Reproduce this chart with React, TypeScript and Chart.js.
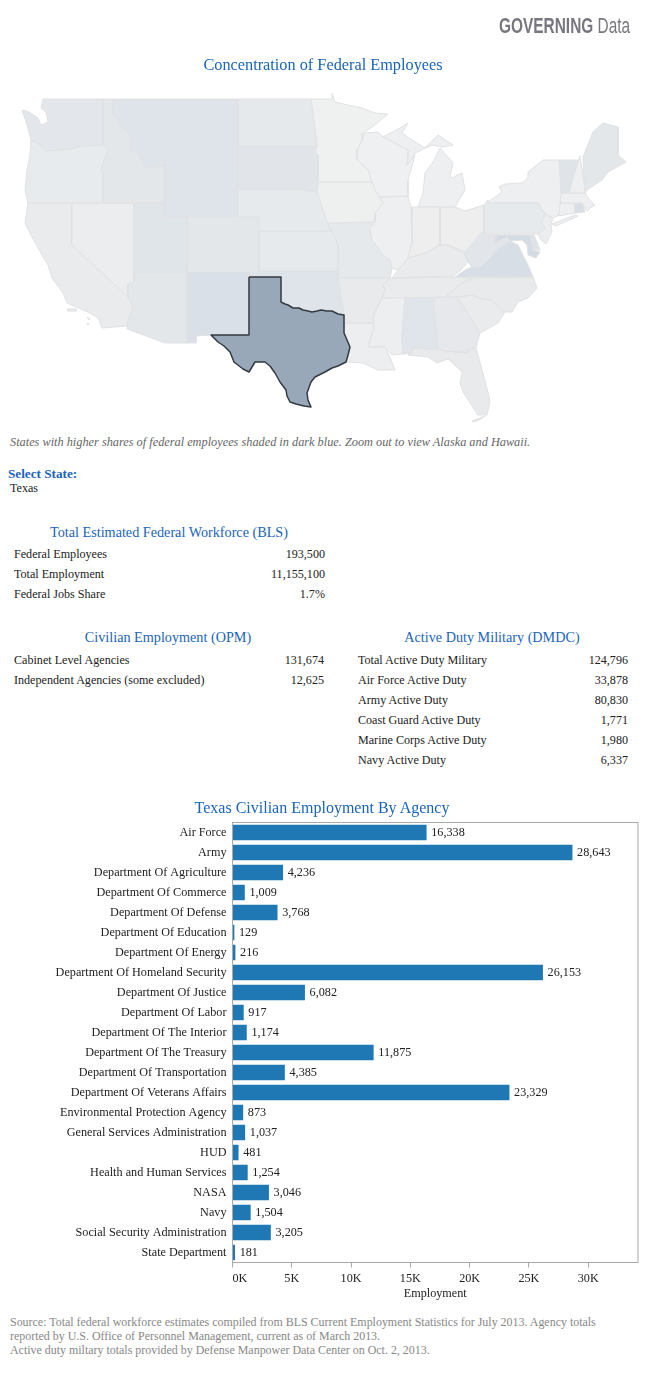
import React, { useEffect, useRef } from "react";
import { Chart, registerables } from "chart.js";

Chart.register(...registerables);

type Pt = [number, number];

// ---- bar chart data
const agencies = [
  "Air Force", "Army", "Department Of Agriculture", "Department Of Commerce", "Department Of Defense",
  "Department Of Education", "Department Of Energy", "Department Of Homeland Security", "Department Of Justice",
  "Department Of Labor", "Department Of The Interior", "Department Of The Treasury", "Department Of Transportation",
  "Department Of Veterans Affairs", "Environmental Protection Agency", "General Services Administration", "HUD",
  "Health and Human Services", "NASA", "Navy", "Social Security Administration", "State Department",
];
const employment = [16338, 28643, 4236, 1009, 3768, 129, 216, 26153, 6082, 917, 1174, 11875, 4385, 23329, 873, 1037, 481, 1254, 3046, 1504, 3205, 181];
const xTickValues = [0, 5000, 10000, 15000, 20000, 25000, 30000];

// ---- tables
const blsLabels = ["Federal Employees", "Total Employment", "Federal Jobs Share"];
const blsValues = ["193,500", "11,155,100", "1.7%"];
const opmLabels = ["Cabinet Level Agencies", "Independent Agencies (some excluded)"];
const opmValues = ["131,674", "12,625"];
const dmdcLabels = ["Total Active Duty Military", "Air Force Active Duty", "Army Active Duty", "Coast Guard Active Duty", "Marine Corps Active Duty", "Navy Active Duty"];
const dmdcValues = ["124,796", "33,878", "80,830", "1,771", "1,980", "6,337"];

// ---- map outlines
const TX: Pt[] = [[249,277],[281,277],[281,302],[285,304],[288,305],[293,308],[299,308],[303,310],[308,311],[312,312],[317,311],[321,310],[327,311],[332,311],[338,314],[344,315],[344,333],[347,340],[350,347],[348,355],[346,362],[338,366],[332,368],[325,372],[315,377],[311,382],[307,393],[308,400],[311,407],[304,406],[296,404],[290,402],[287,396],[286,390],[280,382],[275,373],[270,366],[265,362],[260,362],[255,362],[252,367],[249,372],[243,369],[234,362],[232,357],[230,352],[224,346],[218,342],[211,335],[249,335]];
const WA: Pt[] = [[43,99],[103,99],[103,145],[82,146],[70,149],[58,150],[45,151],[38,143],[31,140],[27,125],[22,110],[29,112],[38,118],[41,125],[48,122],[46,112],[41,108]];
const OR: Pt[] = [[31,140],[38,143],[45,151],[58,150],[70,149],[82,146],[103,145],[108,150],[104,160],[101,170],[103,174],[103,203],[28,203],[25,190],[27,170],[30,155]];
const ID: Pt[] = [[103,99],[113,99],[113,113],[122,127],[132,138],[130,150],[138,153],[145,168],[165,166],[165,203],[103,203],[103,174],[101,170],[104,160],[108,150],[103,145]];
const MT: Pt[] = [[113,99],[238,99],[238,160],[165,160],[165,166],[145,168],[138,153],[130,150],[132,138],[122,127],[113,113]];
const ND: Pt[] = [[238,99],[311,99],[317,146],[238,146]];
const SD: Pt[] = [[238,146],[317,146],[315,152],[318,155],[318,182],[317,192],[305,190],[295,189],[238,189]];
const NE: Pt[] = [[238,189],[295,189],[305,190],[317,192],[323,210],[327,223],[331,231],[259,231],[259,217],[238,217]];
const WY: Pt[] = [[165,160],[238,160],[238,217],[165,217]];
const UT: Pt[] = [[134,203],[165,203],[165,217],[187,217],[187,272],[134,272]];
const CO: Pt[] = [[187,217],[259,217],[259,272],[187,272]];
const KS: Pt[] = [[259,231],[331,231],[334,236],[338,245],[338,271],[259,271]];
const NV: Pt[] = [[72,203],[134,203],[134,282],[128,284],[128,297],[72,245]];
const CA: Pt[] = [[28,203],[72,203],[72,245],[128,297],[133,307],[129,317],[127,326],[102,328],[98,318],[90,313],[67,303],[63,293],[52,278],[48,265],[42,255],[32,237],[25,223]];
const AZ: Pt[] = [[134,272],[187,272],[187,343],[165,343],[127,329],[127,326],[129,317],[133,307],[128,297],[128,284],[134,282]];
const NM: Pt[] = [[187,272],[249,272],[249,335],[211,335],[196,336],[196,343],[187,343]];
const OK: Pt[] = [[249,271],[338,271],[338,278],[340,290],[344,315],[333,312],[322,312],[310,312],[302,310],[288,305],[281,302],[281,277],[249,277]];
const AR: Pt[] = [[338,278],[390,278],[383,285],[385,290],[382,298],[373,315],[374,323],[345,323],[344,315],[340,290]];
const LA: Pt[] = [[345,323],[374,323],[373,330],[368,347],[385,347],[390,357],[395,370],[378,370],[363,363],[346,362],[349,347],[344,333]];
const MN: Pt[] = [[311,99],[332,99],[332,93],[335,102],[348,105],[362,108],[375,113],[388,114],[375,125],[363,133],[362,140],[357,150],[357,160],[368,170],[372,182],[318,182],[318,155],[315,152],[317,146]];
const IA: Pt[] = [[318,182],[372,182],[375,190],[383,203],[375,213],[375,222],[327,223],[323,210],[317,192]];
const WI: Pt[] = [[363,133],[378,132],[383,137],[408,150],[407,165],[415,155],[408,180],[408,196],[380,197],[375,190],[372,182],[368,170],[357,160],[357,150],[362,140]];
const IL: Pt[] = [[380,197],[408,196],[411,207],[412,243],[408,258],[398,270],[392,268],[390,260],[383,255],[372,240],[370,228],[375,222],[375,213],[383,203]];
const MO: Pt[] = [[327,223],[375,222],[370,228],[372,240],[383,255],[390,260],[392,268],[390,278],[338,278],[338,245],[334,236]];
const IN: Pt[] = [[411,207],[440,207],[440,245],[425,253],[408,258],[412,243]];
const MIL: Pt[] = [[418,207],[455,207],[465,190],[462,173],[457,175],[453,178],[450,177],[453,163],[440,148],[433,162],[425,173],[423,193]];
const MIU: Pt[] = [[383,137],[400,128],[408,123],[402,133],[412,140],[425,148],[438,135],[453,145],[442,147],[432,145],[415,153],[408,165],[408,150]];
const OH: Pt[] = [[440,207],[455,207],[465,211],[484,205],[484,230],[475,240],[465,252],[448,245],[440,245]];
const KY: Pt[] = [[392,278],[453,276],[460,271],[468,262],[464,253],[448,245],[440,245],[425,253],[408,258],[398,270]];
const TN: Pt[] = [[390,278],[453,277],[472,278],[462,283],[445,297],[382,298],[385,290],[383,285]];
const WV: Pt[] = [[484,235],[495,235],[495,243],[507,237],[510,241],[498,248],[490,258],[480,267],[472,267],[463,255],[465,252],[475,240],[484,230]];
const VA: Pt[] = [[455,277],[465,270],[472,267],[480,267],[490,258],[498,248],[510,241],[518,245],[523,255],[528,265],[533,277]];
const MD: Pt[] = [[495,235],[530,235],[533,250],[540,252],[536,258],[528,255],[527,245],[522,240],[510,241],[507,237],[495,243]];
const DE: Pt[] = [[530,235],[534,235],[540,250],[533,250]];
const PA: Pt[] = [[484,205],[488,200],[488,203],[538,203],[545,214],[541,222],[545,228],[538,234],[484,234]];
const NJ: Pt[] = [[545,214],[553,218],[551,225],[552,232],[546,244],[541,240],[538,234],[545,228],[541,222]];
const NY: Pt[] = [[484,205],[498,195],[502,192],[499,187],[505,184],[522,183],[528,178],[528,172],[543,160],[559,160],[561,193],[559,215],[553,218],[545,214],[538,203],[488,203]];
const LI: Pt[] = [[552,224],[575,215],[578,216],[556,226]];
const VT: Pt[] = [[559,160],[578,160],[573,177],[569,193],[561,193]];
const NH: Pt[] = [[580,156],[584,183],[585,193],[569,193],[573,177]];
const ME: Pt[] = [[583,157],[593,132],[603,123],[618,127],[618,155],[626,162],[608,172],[602,180],[587,190],[585,193],[584,183]];
const MA: Pt[] = [[558,193],[585,193],[588,198],[595,205],[590,208],[587,211],[582,203],[558,203]];
const CT: Pt[] = [[558,203],[575,203],[575,213],[558,216]];
const RI: Pt[] = [[575,203],[582,203],[585,212],[575,213]];
const NC: Pt[] = [[472,278],[533,277],[537,288],[528,298],[518,302],[512,312],[503,312],[492,300],[482,299],[472,295],[457,297],[445,297],[462,283]];
const SC: Pt[] = [[457,297],[472,295],[482,299],[492,300],[505,312],[498,323],[480,333],[468,313]];
const GA: Pt[] = [[433,297],[457,297],[468,313],[480,333],[476,348],[468,349],[468,353],[438,350],[437,335]];
const AL: Pt[] = [[405,297],[433,297],[437,335],[438,349],[411,348],[412,353],[403,354],[402,338]];
const MS: Pt[] = [[382,298],[405,297],[402,338],[403,354],[392,355],[385,347],[368,347],[373,330],[374,315]];
const FL: Pt[] = [[411,348],[438,350],[468,353],[468,349],[476,348],[478,355],[488,392],[490,402],[487,415],[478,415],[463,392],[460,383],[462,372],[448,359],[437,363],[428,357],[408,355]];
const ISL1: Pt[] = [[67,309],[76,309],[76,311],[68,311]];
const ISL2: Pt[] = [[87,317],[90,319],[89,320]];
const ISL3: Pt[] = [[87,323],[89,324],[88,325]];
const KEYS: Pt[] = [[472,421],[480,418],[485,416],[481,419],[474,422]];

const stateShapes: [Pt[], string][] = [
  [TX, "#99a8b9"],
  [WA, "#e3e6ea"], [OR, "#e8ebed"], [ID, "#e4e7ea"], [MT, "#dfe4ea"], [ND, "#e6e9ec"], [SD, "#e1e5e9"], [NE, "#e7eaed"], [WY, "#dfe4ea"],
  [UT, "#e0e5e9"], [CO, "#e4e7ea"], [KS, "#e7eaec"], [NV, "#ebedee"], [CA, "#e9ebed"], [AZ, "#e4e7ea"], [NM, "#d9e0e7"], [OK, "#dee4ea"],
  [AR, "#e8eaec"], [LA, "#edeeef"], [MN, "#eff0f0"], [IA, "#eeefef"], [WI, "#eef0f1"], [IL, "#eeeff0"], [MO, "#e6e9ec"], [IN, "#eeeeef"],
  [MIL, "#eeeff0"], [MIU, "#eeeff0"], [OH, "#eeeeef"], [KY, "#e9ebed"], [TN, "#e9ebed"], [WV, "#e2e6eb"], [VA, "#d7dee6"], [MD, "#d3dbe4"],
  [DE, "#dfe3e8"], [PA, "#e7eaec"], [NJ, "#ebedef"], [NY, "#eeeff0"], [LI, "#eeeff0"], [VT, "#dfe4e9"], [NH, "#eeeff0"], [ME, "#e4e7ea"],
  [MA, "#eeeff0"], [CT, "#eeeff0"], [RI, "#d9dfe6"], [NC, "#e8eaec"], [SC, "#e9ebed"], [GA, "#e6e8eb"], [AL, "#e0e5eb"], [MS, "#edeeef"], [FL, "#e8eaec"],
  [ISL1, "#e9ebed"], [ISL2, "#e9ebed"], [ISL3, "#e9ebed"], [KEYS, "#e8eaec"],
];

const SERIF = '"Liberation Serif", serif';
const BLUE = "#1a64bb";

function Txt(props: { x?: number; right?: number; cx?: number; y: number; size?: number; color?: string; children: React.ReactNode; style?: React.CSSProperties }) {
  const { x, right, cx, y, size = 12.1, color = "#222", children, style } = props;
  const base: React.CSSProperties = {
    position: "absolute", top: y, whiteSpace: "nowrap", fontFamily: SERIF, fontSize: size, color, lineHeight: 1,
  };
  let tx = "translateY(-50%)";
  if (x !== undefined) base.left = x;
  if (right !== undefined) base.right = 649 - right;
  if (cx !== undefined) { base.left = cx; tx = "translate(-50%,-50%)"; }
  return <div style={{ ...base, transform: tx, ...style }}>{children}</div>;
}

function Rows(props: { labels: string[]; values: string[]; left: number; right: number; top: number }) {
  return (
    <>
      {props.labels.map((l, i) => (
        <React.Fragment key={l}>
          <Txt x={props.left} y={props.top + i * 20}>{l}</Txt>
          <Txt right={props.right} y={props.top + i * 20}>{props.values[i]}</Txt>
        </React.Fragment>
      ))}
    </>
  );
}

export default function App() {
  const mapRef = useRef<HTMLCanvasElement>(null);
  const barRef = useRef<HTMLCanvasElement>(null);

  useEffect(() => {
    document.body.style.margin = "0";
    const map = new Chart(mapRef.current!, {
      type: "scatter",
      data: {
        datasets: stateShapes.map(([pts, color], i) => ({
          data: [...pts, pts[0]].map(([x, y]) => ({ x, y })),
          showLine: true,
          tension: 0,
          pointRadius: 0,
          fill: "shape",
          backgroundColor: color,
          borderColor: i === 0 ? "#333a42" : "#e0e1e3",
          borderWidth: i === 0 ? 1.5 : 1,
          borderJoinStyle: "round",
        })),
      } as any,
      options: {
        animation: false,
        responsive: false,
        events: [],
        layout: { padding: 0 },
        plugins: { legend: { display: false }, tooltip: { enabled: false } },
        scales: {
          x: { type: "linear", min: 0, max: 649, display: false },
          y: { type: "linear", min: 0, max: 430, reverse: true, display: false },
        },
      },
    });

    const barLabels = {
      id: "barLabels",
      beforeDraw(c: any) {
        const items = c.scales.x.getLabelItems();
        if (items[0]) items[0].options.textAlign = "left";
      },
      afterDatasetsDraw(c: any) {
        const ctx = c.ctx;
        ctx.save();
        ctx.font = `12.2px ${SERIF}`;
        ctx.fillStyle = "#222";
        ctx.textBaseline = "middle";
        c.getDatasetMeta(0).data.forEach((el: any, i: number) => {
          ctx.fillText(employment[i].toLocaleString("en-US"), el.x + 5, el.y + 0.5);
        });
        const a = c.chartArea;
        ctx.strokeStyle = "#aaaaaa";
        ctx.lineWidth = 1;
        ctx.strokeRect(a.left, a.top, a.right - a.left, a.bottom - a.top);
        ctx.restore();
      },
    };

    const noPad = (s: any) => { s.paddingTop = 0; s.paddingBottom = 0; s.paddingLeft = 0; s.paddingRight = 0; };

    const bar = new Chart(barRef.current!, {
      type: "bar",
      data: {
        labels: agencies,
        datasets: [{ data: employment, backgroundColor: "#1f77b4", barThickness: 15 }],
      },
      options: {
        animation: false,
        responsive: false,
        indexAxis: "y",
        events: [],
        layout: { padding: { top: 7.5, right: 11, left: 0, bottom: 0 } },
        plugins: { legend: { display: false }, tooltip: { enabled: false } },
        scales: {
          x: {
            type: "linear",
            min: 0,
            max: 34200,
            afterFit: (s: any) => { s.height = 42.5; noPad(s); },
            afterBuildTicks: (s: any) => { s.ticks = xTickValues.map((value) => ({ value })); },
            ticks: {
              autoSkip: false,
              maxRotation: 0,
              padding: 4,
              color: "#222",
              font: { family: SERIF, size: 12.2 },
              callback: (v: any) => `${Number(v) / 1000}K`,
            },
            grid: { drawOnChartArea: false, drawTicks: true, tickLength: 5, color: "#aaaaaa" },
            border: { display: false },
            title: { display: true, text: "Employment", color: "#222", font: { family: SERIF, size: 12.2 }, padding: { top: 0, bottom: 4 } },
          },
          y: {
            type: "category",
            afterFit: (s: any) => { s.width = 232.5; noPad(s); },
            ticks: { autoSkip: false, padding: 6, color: "#222", font: { family: SERIF, size: 12.2 } },
            grid: { display: false, drawTicks: false },
            border: { display: false },
          },
        },
      } as any,
      plugins: [barLabels],
    });

    return () => { map.destroy(); bar.destroy(); };
  }, []);

  return (
    <div style={{ position: "relative", width: 649, height: 1379, overflow: "hidden", background: "#fff" }}>
      <canvas ref={mapRef} width={649} height={430} style={{ position: "absolute", left: 0, top: 0 }} />
      <canvas ref={barRef} width={649} height={490} style={{ position: "absolute", left: 0, top: 815 }} />

      <Txt right={630} y={26} size={22} color="#77777f" style={{ fontFamily: '"Liberation Sans", sans-serif', transform: "translateY(-50%) scaleX(0.7)", transformOrigin: "right center" }}>
        <b>GOVERNING</b> Data
      </Txt>
      <Txt cx={323} y={65} size={16.3} color={BLUE}>Concentration of Federal Employees</Txt>
      <Txt x={10} y={442} size={12.3} color="#666" style={{ fontStyle: "italic" }}>States with higher shares of federal employees shaded in dark blue. Zoom out to view Alaska and Hawaii.</Txt>
      <Txt x={8} y={474} size={13.2} color={BLUE} style={{ fontWeight: 700 }}>Select State:</Txt>
      <Txt x={10} y={488}>Texas</Txt>

      <Txt cx={169} y={532} size={14.2} color={BLUE}>Total Estimated Federal Workforce (BLS)</Txt>
      <Rows labels={blsLabels} values={blsValues} left={14} right={325} top={554} />
      <Txt cx={168} y={637} size={14.2} color={BLUE}>Civilian Employment (OPM)</Txt>
      <Rows labels={opmLabels} values={opmValues} left={14} right={324} top={660} />
      <Txt cx={492} y={637} size={14.2} color={BLUE}>Active Duty Military (DMDC)</Txt>
      <Rows labels={dmdcLabels} values={dmdcValues} left={358} right={628} top={660} />

      <Txt cx={322} y={808} size={16} color={BLUE}>Texas Civilian Employment By Agency</Txt>

      <Txt x={10} y={1323} size={11.95} color="#888">Source: Total federal workforce estimates compiled from BLS Current Employment Statistics for July 2013. Agency totals</Txt>
      <Txt x={10} y={1337} size={11.95} color="#888">reported by U.S. Office of Personnel Management, current as of March 2013.</Txt>
      <Txt x={10} y={1351} size={11.95} color="#888">Active duty miltary totals provided by Defense Manpower Data Center on Oct. 2, 2013.</Txt>
    </div>
  );
}
